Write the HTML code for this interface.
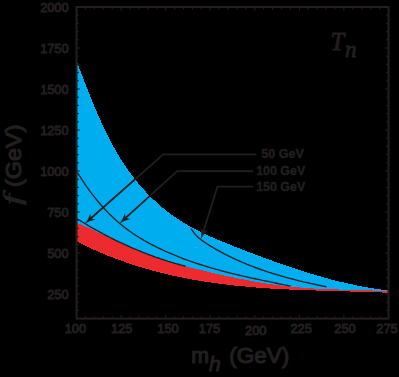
<!DOCTYPE html>
<html><head><meta charset="utf-8"><style>
html,body{margin:0;padding:0;background:#000;}
svg{display:block}
text{font-family:"Liberation Sans",sans-serif;fill:#231f20;stroke:#231f20;stroke-width:0.6px}
.tk text{stroke-width:0.9px}
#xm,#xh,#xg,#yg{stroke-width:1.1px}
.lg text{stroke-width:0.4px}
.ser{font-family:"Liberation Serif",serif;font-style:italic}
</style></head><body>
<svg width="399" height="377" viewBox="0 0 399 377">
<rect width="399" height="377" fill="#000"/>
<polygon shape-rendering="crispEdges" fill="#00aeef" points="77.3,62.7 80.4,71.0 83.6,79.2 86.7,87.3 89.9,95.2 93.0,102.9 96.1,110.4 99.3,117.6 102.4,124.6 105.5,131.2 108.7,137.5 111.8,143.5 115.0,149.2 118.1,154.6 121.2,159.7 124.4,164.5 127.5,169.2 130.7,173.5 133.8,177.7 136.9,181.6 140.1,185.4 143.2,188.9 146.3,192.3 149.5,195.6 152.6,198.7 155.8,201.6 158.9,204.4 162.0,207.1 165.2,209.7 168.3,212.2 171.5,214.5 174.6,216.8 177.7,218.9 180.9,221.0 184.0,222.9 187.1,224.8 190.3,226.6 193.4,228.3 196.6,230.0 199.7,231.5 202.8,233.1 206.0,234.6 209.1,236.0 212.3,237.4 215.4,238.7 218.5,240.0 221.7,241.3 224.8,242.6 227.9,243.9 231.1,245.1 234.2,246.4 237.4,247.6 240.5,248.8 243.6,250.0 246.8,251.3 249.9,252.5 253.0,253.7 256.2,254.8 259.3,256.0 262.5,257.2 265.6,258.4 268.7,259.5 271.9,260.6 275.0,261.8 278.2,262.9 281.3,264.0 284.4,265.1 287.6,266.1 290.7,267.2 293.8,268.2 297.0,269.3 300.1,270.3 303.3,271.3 306.4,272.3 309.5,273.2 312.7,274.2 315.8,275.1 319.0,276.0 322.1,276.9 325.2,277.8 328.4,278.6 331.5,279.5 334.6,280.3 337.8,281.1 340.9,281.9 344.1,282.6 347.2,283.3 350.3,284.0 353.5,284.7 356.6,285.4 359.8,286.0 362.9,286.6 366.0,287.2 369.2,287.7 372.3,288.3 375.4,288.8 378.6,289.2 381.7,289.7 384.9,290.1 388.0,290.5 388.0,292.8 384.9,292.7 381.7,292.5 378.6,292.4 375.4,292.3 372.3,292.2 369.2,292.1 366.0,292.0 362.9,291.9 359.8,291.8 356.6,291.7 353.5,291.6 350.3,291.5 347.2,291.4 344.1,291.4 340.9,291.3 337.8,291.2 334.6,291.1 331.5,291.0 328.4,290.9 325.2,290.8 322.1,290.7 319.0,290.6 315.8,290.5 312.7,290.4 309.5,290.3 306.4,290.2 303.3,290.1 300.1,290.0 297.0,289.8 293.8,289.7 290.7,289.6 287.6,289.4 284.4,289.3 281.3,289.1 278.2,288.9 275.0,288.8 271.9,288.6 268.7,288.4 265.6,288.2 262.5,288.0 259.3,287.7 256.2,287.5 253.0,287.2 249.9,287.0 246.8,286.7 243.6,286.4 240.5,286.1 237.4,285.8 234.2,285.5 231.1,285.1 227.9,284.8 224.8,284.4 221.7,284.0 218.5,283.6 215.4,283.2 212.3,282.7 209.1,282.3 206.0,281.8 202.8,281.3 199.7,280.8 196.6,280.3 193.4,279.7 190.3,279.1 187.1,278.6 184.0,277.9 180.9,277.3 177.7,276.7 174.6,276.0 171.5,275.3 168.3,274.6 165.2,273.8 162.0,273.0 158.9,272.2 155.8,271.4 152.6,270.6 149.5,269.7 146.3,268.8 143.2,267.9 140.1,267.0 136.9,266.0 133.8,265.0 130.7,264.0 127.5,262.9 124.4,261.8 121.2,260.7 118.1,259.6 115.0,258.4 111.8,257.2 108.7,256.0 105.5,254.7 102.4,253.4 99.3,252.1 96.1,250.7 93.0,249.3 89.9,247.9 86.7,246.4 83.6,244.9 80.4,243.4 77.3,241.8"/>
<polygon shape-rendering="crispEdges" fill="#ed2a2e" points="77.3,223.0 80.4,224.3 83.6,225.7 86.7,227.1 89.9,228.6 93.0,230.0 96.1,231.5 99.3,233.0 102.4,234.5 105.5,235.9 108.7,237.4 111.8,238.9 115.0,240.4 118.1,241.9 121.2,243.3 124.4,244.8 127.5,246.2 130.7,247.6 133.8,248.9 136.9,250.3 140.1,251.6 143.2,252.9 146.3,254.1 149.5,255.3 152.6,256.4 155.8,257.5 158.9,258.6 162.0,259.6 165.2,260.6 168.3,261.5 171.5,262.4 174.6,263.3 177.7,264.2 180.9,265.1 184.0,265.9 187.1,266.7 190.3,267.5 193.4,268.3 196.6,269.0 199.7,269.8 202.8,270.5 206.0,271.3 209.1,272.0 212.3,272.8 215.4,273.5 218.5,274.2 221.7,274.9 224.8,275.6 227.9,276.3 231.1,277.0 234.2,277.6 237.4,278.3 240.5,278.9 243.6,279.5 246.8,280.1 249.9,280.7 253.0,281.3 256.2,281.9 259.3,282.4 262.5,282.9 265.6,283.4 268.7,283.9 271.9,284.4 275.0,284.8 278.2,285.2 281.3,285.6 284.4,286.0 287.6,286.4 290.7,286.7 293.8,287.0 297.0,287.3 300.1,287.5 303.3,287.8 306.4,288.0 309.5,288.2 312.7,288.4 315.8,288.6 319.0,288.8 322.1,288.9 325.2,289.1 328.4,289.2 331.5,289.3 334.6,289.4 337.8,289.5 340.9,289.6 344.1,289.7 347.2,289.8 350.3,289.9 353.5,290.0 356.6,290.1 359.8,290.1 362.9,290.2 366.0,290.3 369.2,290.4 372.3,290.5 375.4,290.6 378.6,290.7 381.7,290.8 384.9,290.9 388.0,291.0 388.0,292.8 384.9,292.7 381.7,292.5 378.6,292.4 375.4,292.3 372.3,292.2 369.2,292.1 366.0,292.0 362.9,291.9 359.8,291.8 356.6,291.7 353.5,291.6 350.3,291.5 347.2,291.4 344.1,291.4 340.9,291.3 337.8,291.2 334.6,291.1 331.5,291.0 328.4,290.9 325.2,290.8 322.1,290.7 319.0,290.6 315.8,290.5 312.7,290.4 309.5,290.3 306.4,290.2 303.3,290.1 300.1,290.0 297.0,289.8 293.8,289.7 290.7,289.6 287.6,289.4 284.4,289.3 281.3,289.1 278.2,288.9 275.0,288.8 271.9,288.6 268.7,288.4 265.6,288.2 262.5,288.0 259.3,287.7 256.2,287.5 253.0,287.2 249.9,287.0 246.8,286.7 243.6,286.4 240.5,286.1 237.4,285.8 234.2,285.5 231.1,285.1 227.9,284.8 224.8,284.4 221.7,284.0 218.5,283.6 215.4,283.2 212.3,282.7 209.1,282.3 206.0,281.8 202.8,281.3 199.7,280.8 196.6,280.3 193.4,279.7 190.3,279.1 187.1,278.6 184.0,277.9 180.9,277.3 177.7,276.7 174.6,276.0 171.5,275.3 168.3,274.6 165.2,273.8 162.0,273.0 158.9,272.2 155.8,271.4 152.6,270.6 149.5,269.7 146.3,268.8 143.2,267.9 140.1,267.0 136.9,266.0 133.8,265.0 130.7,264.0 127.5,262.9 124.4,261.8 121.2,260.7 118.1,259.6 115.0,258.4 111.8,257.2 108.7,256.0 105.5,254.7 102.4,253.4 99.3,252.1 96.1,250.7 93.0,249.3 89.9,247.9 86.7,246.4 83.6,244.9 80.4,243.4 77.3,241.8"/>
<g fill="none" stroke="#231f20" stroke-width="1.35">
<polyline points="77.3,172.3 79.5,175.8 81.6,179.2 83.8,182.4 85.9,185.6 88.1,188.6 90.2,191.6 92.4,194.4 94.5,197.2 96.7,199.9 98.9,202.5 101.0,205.0 103.2,207.4 105.3,209.7 107.5,212.0 109.6,214.2 111.8,216.3 113.9,218.3 116.1,220.3 118.3,222.2 120.4,224.0 122.6,225.8 124.7,227.5 126.9,229.1 129.0,230.7 131.2,232.2 133.3,233.7 135.5,235.2 137.7,236.5 139.8,237.9 142.0,239.2 144.1,240.5 146.3,241.7 148.4,242.9 150.6,244.0 152.7,245.1 154.9,246.2 157.1,247.3 159.2,248.3 161.4,249.4 163.5,250.4 165.7,251.3 167.8,252.3 170.0,253.2 172.1,254.1 174.3,255.0 176.5,255.9 178.6,256.8 180.8,257.6 182.9,258.5 185.1,259.3 187.2,260.1 189.4,260.9 191.5,261.6 193.7,262.4 195.9,263.1 198.0,263.8 200.2,264.5 202.3,265.2 204.5,265.9 206.6,266.5 208.8,267.2 210.9,267.8 213.1,268.4 215.3,269.1 217.4,269.7 219.6,270.2 221.7,270.8 223.9,271.4 226.0,272.0 228.2,272.5 230.3,273.1 232.5,273.6 234.7,274.1 236.8,274.6 239.0,275.1 241.1,275.6 243.3,276.1 245.4,276.6 247.6,277.1 249.7,277.6 251.9,278.1 254.1,278.5 256.2,279.0 258.4,279.4 260.5,279.9 262.7,280.4 264.8,280.8 267.0,281.2 269.1,281.7 271.3,282.1 273.5,282.6 275.6,283.0 277.8,283.5 279.9,283.9 282.1,284.3 284.2,284.8 286.4,285.2 288.5,285.7 290.7,286.1"/>
<polyline points="77.3,218.8 78.4,219.5 79.5,220.2 80.6,220.9 81.7,221.5 82.8,222.2 83.9,222.9 85.0,223.5 86.1,224.2 87.2,224.9 88.2,225.5 89.3,226.1 90.4,226.8 91.5,227.4 92.6,228.1 93.7,228.7 94.8,229.3 95.9,229.9 97.0,230.5 98.1,231.1 99.2,231.7 100.3,232.3 101.4,232.9 102.5,233.5 103.6,234.1 104.7,234.7 105.8,235.3 106.9,235.8 108.0,236.4 109.1,237.0 110.1,237.5 111.2,238.1 112.3,238.6 113.4,239.2 114.5,239.7 115.6,240.3 116.7,240.8 117.8,241.3 118.9,241.9 120.0,242.4 121.1,242.9 122.2,243.4 123.3,243.9 124.4,244.4 125.5,244.9 126.6,245.4 127.7,245.9 128.8,246.4 129.9,246.9 131.0,247.4 132.0,247.8 133.1,248.3 134.2,248.8 135.3,249.2 136.4,249.7 137.5,250.1 138.6,250.6 139.7,251.0 140.8,251.5 141.9,251.9 143.0,252.4 144.1,252.8 145.2,253.2 146.3,253.6 147.4,254.1 148.5,254.5 149.6,254.9 150.7,255.3 151.8,255.7 152.9,256.1 153.9,256.5 155.0,256.9 156.1,257.3 157.2,257.6 158.3,258.0 159.4,258.4 160.5,258.8 161.6,259.1 162.7,259.5 163.8,259.9 164.9,260.2 166.0,260.6 167.1,260.9 168.2,261.3 169.3,261.6 170.4,261.9 171.5,262.3 172.6,262.6 173.7,262.9 174.8,263.3 175.8,263.6 176.9,263.9 178.0,264.2 179.1,264.5 180.2,264.8 181.3,265.1 182.4,265.4 183.5,265.7 184.6,266.0 185.7,266.3"/>
<polyline points="191.0,228.5 192.4,230.6 193.7,232.4 195.1,234.1 196.5,235.6 197.8,237.0 199.2,238.2 200.6,239.3 201.9,240.4 203.3,241.4 204.7,242.3 206.1,243.2 207.4,244.1 208.8,245.0 210.2,245.9 211.5,246.7 212.9,247.5 214.3,248.3 215.6,249.1 217.0,249.9 218.4,250.7 219.7,251.4 221.1,252.2 222.5,252.9 223.8,253.6 225.2,254.3 226.6,255.0 228.0,255.7 229.3,256.3 230.7,257.0 232.1,257.7 233.4,258.3 234.8,258.9 236.2,259.6 237.5,260.2 238.9,260.8 240.3,261.4 241.6,262.0 243.0,262.6 244.4,263.1 245.7,263.7 247.1,264.3 248.5,264.8 249.9,265.4 251.2,265.9 252.6,266.4 254.0,267.0 255.3,267.5 256.7,268.0 258.1,268.5 259.4,269.0 260.8,269.5 262.2,270.0 263.5,270.4 264.9,270.9 266.3,271.4 267.6,271.8 269.0,272.3 270.4,272.7 271.8,273.1 273.1,273.6 274.5,274.0 275.9,274.4 277.2,274.8 278.6,275.2 280.0,275.6 281.3,276.0 282.7,276.4 284.1,276.8 285.4,277.2 286.8,277.6 288.2,278.0 289.5,278.3 290.9,278.7 292.3,279.0 293.7,279.4 295.0,279.7 296.4,280.1 297.8,280.4 299.1,280.8 300.5,281.1 301.9,281.4 303.2,281.8 304.6,282.1 306.0,282.4 307.3,282.7 308.7,283.0 310.1,283.3 311.4,283.6 312.8,283.9 314.2,284.2 315.6,284.5 316.9,284.8 318.3,285.1 319.7,285.4 321.0,285.7 322.4,286.0 323.8,286.2 325.1,286.5 326.5,286.8"/>
</g>
<g fill="none" stroke="#231f20" stroke-width="1.75"><polyline points="256.3,154.4 163.3,154.4 90.40,218.76"/><polyline points="253,171.0 177.2,171.0 125.13,218.39"/><polyline points="253,186.5 217.5,186.5 203.22,231.99"/></g>
<g fill="#231f20"><path d="M85.08,223.46 Q89.72,220.57 95.88,219.39 L90.77,218.43 L90.46,213.24 Q88.53,219.21 85.08,223.46Z"/><path d="M119.88,223.17 Q124.48,220.20 130.63,218.93 L125.50,218.06 L125.11,212.87 Q123.27,218.87 119.88,223.17Z"/><path d="M201.09,238.77 Q203.57,233.89 208.24,229.69 L203.37,231.52 L200.41,227.24 Q201.85,233.35 201.09,238.77Z"/></g>
<rect x="76.5" y="7.0" width="312.0" height="311.6" fill="none" stroke="#231f20" stroke-width="2.0"/>
<g stroke="#231f20" stroke-width="1.1">
<line x1="76.5" y1="318.6" x2="78.9" y2="318.6"/><line x1="388.5" y1="318.6" x2="386.1" y2="318.6"/><line x1="76.5" y1="310.4" x2="78.9" y2="310.4"/><line x1="388.5" y1="310.4" x2="386.1" y2="310.4"/><line x1="76.5" y1="302.2" x2="78.9" y2="302.2"/><line x1="388.5" y1="302.2" x2="386.1" y2="302.2"/><line x1="76.5" y1="294.0" x2="79.9" y2="294.0"/><line x1="388.5" y1="294.0" x2="385.1" y2="294.0"/><line x1="76.5" y1="285.8" x2="78.9" y2="285.8"/><line x1="388.5" y1="285.8" x2="386.1" y2="285.8"/><line x1="76.5" y1="277.6" x2="78.9" y2="277.6"/><line x1="388.5" y1="277.6" x2="386.1" y2="277.6"/><line x1="76.5" y1="269.4" x2="78.9" y2="269.4"/><line x1="388.5" y1="269.4" x2="386.1" y2="269.4"/><line x1="76.5" y1="261.2" x2="78.9" y2="261.2"/><line x1="388.5" y1="261.2" x2="386.1" y2="261.2"/><line x1="76.5" y1="253.0" x2="79.9" y2="253.0"/><line x1="388.5" y1="253.0" x2="385.1" y2="253.0"/><line x1="76.5" y1="244.8" x2="78.9" y2="244.8"/><line x1="388.5" y1="244.8" x2="386.1" y2="244.8"/><line x1="76.5" y1="236.6" x2="78.9" y2="236.6"/><line x1="388.5" y1="236.6" x2="386.1" y2="236.6"/><line x1="76.5" y1="228.4" x2="78.9" y2="228.4"/><line x1="388.5" y1="228.4" x2="386.1" y2="228.4"/><line x1="76.5" y1="220.2" x2="78.9" y2="220.2"/><line x1="388.5" y1="220.2" x2="386.1" y2="220.2"/><line x1="76.5" y1="212.0" x2="79.9" y2="212.0"/><line x1="388.5" y1="212.0" x2="385.1" y2="212.0"/><line x1="76.5" y1="203.8" x2="78.9" y2="203.8"/><line x1="388.5" y1="203.8" x2="386.1" y2="203.8"/><line x1="76.5" y1="195.6" x2="78.9" y2="195.6"/><line x1="388.5" y1="195.6" x2="386.1" y2="195.6"/><line x1="76.5" y1="187.4" x2="78.9" y2="187.4"/><line x1="388.5" y1="187.4" x2="386.1" y2="187.4"/><line x1="76.5" y1="179.2" x2="78.9" y2="179.2"/><line x1="388.5" y1="179.2" x2="386.1" y2="179.2"/><line x1="76.5" y1="171.0" x2="79.9" y2="171.0"/><line x1="388.5" y1="171.0" x2="385.1" y2="171.0"/><line x1="76.5" y1="162.8" x2="78.9" y2="162.8"/><line x1="388.5" y1="162.8" x2="386.1" y2="162.8"/><line x1="76.5" y1="154.6" x2="78.9" y2="154.6"/><line x1="388.5" y1="154.6" x2="386.1" y2="154.6"/><line x1="76.5" y1="146.4" x2="78.9" y2="146.4"/><line x1="388.5" y1="146.4" x2="386.1" y2="146.4"/><line x1="76.5" y1="138.2" x2="78.9" y2="138.2"/><line x1="388.5" y1="138.2" x2="386.1" y2="138.2"/><line x1="76.5" y1="130.0" x2="79.9" y2="130.0"/><line x1="388.5" y1="130.0" x2="385.1" y2="130.0"/><line x1="76.5" y1="121.8" x2="78.9" y2="121.8"/><line x1="388.5" y1="121.8" x2="386.1" y2="121.8"/><line x1="76.5" y1="113.6" x2="78.9" y2="113.6"/><line x1="388.5" y1="113.6" x2="386.1" y2="113.6"/><line x1="76.5" y1="105.4" x2="78.9" y2="105.4"/><line x1="388.5" y1="105.4" x2="386.1" y2="105.4"/><line x1="76.5" y1="97.2" x2="78.9" y2="97.2"/><line x1="388.5" y1="97.2" x2="386.1" y2="97.2"/><line x1="76.5" y1="89.0" x2="79.9" y2="89.0"/><line x1="388.5" y1="89.0" x2="385.1" y2="89.0"/><line x1="76.5" y1="80.8" x2="78.9" y2="80.8"/><line x1="388.5" y1="80.8" x2="386.1" y2="80.8"/><line x1="76.5" y1="72.6" x2="78.9" y2="72.6"/><line x1="388.5" y1="72.6" x2="386.1" y2="72.6"/><line x1="76.5" y1="64.4" x2="78.9" y2="64.4"/><line x1="388.5" y1="64.4" x2="386.1" y2="64.4"/><line x1="76.5" y1="56.2" x2="78.9" y2="56.2"/><line x1="388.5" y1="56.2" x2="386.1" y2="56.2"/><line x1="76.5" y1="48.0" x2="79.9" y2="48.0"/><line x1="388.5" y1="48.0" x2="385.1" y2="48.0"/><line x1="76.5" y1="39.8" x2="78.9" y2="39.8"/><line x1="388.5" y1="39.8" x2="386.1" y2="39.8"/><line x1="76.5" y1="31.6" x2="78.9" y2="31.6"/><line x1="388.5" y1="31.6" x2="386.1" y2="31.6"/><line x1="76.5" y1="23.4" x2="78.9" y2="23.4"/><line x1="388.5" y1="23.4" x2="386.1" y2="23.4"/><line x1="76.5" y1="15.2" x2="78.9" y2="15.2"/><line x1="388.5" y1="15.2" x2="386.1" y2="15.2"/><line x1="76.5" y1="7.0" x2="79.9" y2="7.0"/><line x1="388.5" y1="7.0" x2="385.1" y2="7.0"/><line x1="76.5" y1="318.6" x2="76.5" y2="315.2"/><line x1="76.5" y1="7.0" x2="76.5" y2="10.4"/><line x1="85.4" y1="318.6" x2="85.4" y2="316.2"/><line x1="85.4" y1="7.0" x2="85.4" y2="9.4"/><line x1="94.3" y1="318.6" x2="94.3" y2="316.2"/><line x1="94.3" y1="7.0" x2="94.3" y2="9.4"/><line x1="103.2" y1="318.6" x2="103.2" y2="316.2"/><line x1="103.2" y1="7.0" x2="103.2" y2="9.4"/><line x1="112.2" y1="318.6" x2="112.2" y2="316.2"/><line x1="112.2" y1="7.0" x2="112.2" y2="9.4"/><line x1="121.1" y1="318.6" x2="121.1" y2="315.2"/><line x1="121.1" y1="7.0" x2="121.1" y2="10.4"/><line x1="130.0" y1="318.6" x2="130.0" y2="316.2"/><line x1="130.0" y1="7.0" x2="130.0" y2="9.4"/><line x1="138.9" y1="318.6" x2="138.9" y2="316.2"/><line x1="138.9" y1="7.0" x2="138.9" y2="9.4"/><line x1="147.8" y1="318.6" x2="147.8" y2="316.2"/><line x1="147.8" y1="7.0" x2="147.8" y2="9.4"/><line x1="156.7" y1="318.6" x2="156.7" y2="316.2"/><line x1="156.7" y1="7.0" x2="156.7" y2="9.4"/><line x1="165.6" y1="318.6" x2="165.6" y2="315.2"/><line x1="165.6" y1="7.0" x2="165.6" y2="10.4"/><line x1="174.6" y1="318.6" x2="174.6" y2="316.2"/><line x1="174.6" y1="7.0" x2="174.6" y2="9.4"/><line x1="183.5" y1="318.6" x2="183.5" y2="316.2"/><line x1="183.5" y1="7.0" x2="183.5" y2="9.4"/><line x1="192.4" y1="318.6" x2="192.4" y2="316.2"/><line x1="192.4" y1="7.0" x2="192.4" y2="9.4"/><line x1="201.3" y1="318.6" x2="201.3" y2="316.2"/><line x1="201.3" y1="7.0" x2="201.3" y2="9.4"/><line x1="210.2" y1="318.6" x2="210.2" y2="315.2"/><line x1="210.2" y1="7.0" x2="210.2" y2="10.4"/><line x1="219.1" y1="318.6" x2="219.1" y2="316.2"/><line x1="219.1" y1="7.0" x2="219.1" y2="9.4"/><line x1="228.0" y1="318.6" x2="228.0" y2="316.2"/><line x1="228.0" y1="7.0" x2="228.0" y2="9.4"/><line x1="237.0" y1="318.6" x2="237.0" y2="316.2"/><line x1="237.0" y1="7.0" x2="237.0" y2="9.4"/><line x1="245.9" y1="318.6" x2="245.9" y2="316.2"/><line x1="245.9" y1="7.0" x2="245.9" y2="9.4"/><line x1="254.8" y1="318.6" x2="254.8" y2="315.2"/><line x1="254.8" y1="7.0" x2="254.8" y2="10.4"/><line x1="263.7" y1="318.6" x2="263.7" y2="316.2"/><line x1="263.7" y1="7.0" x2="263.7" y2="9.4"/><line x1="272.6" y1="318.6" x2="272.6" y2="316.2"/><line x1="272.6" y1="7.0" x2="272.6" y2="9.4"/><line x1="281.5" y1="318.6" x2="281.5" y2="316.2"/><line x1="281.5" y1="7.0" x2="281.5" y2="9.4"/><line x1="290.4" y1="318.6" x2="290.4" y2="316.2"/><line x1="290.4" y1="7.0" x2="290.4" y2="9.4"/><line x1="299.4" y1="318.6" x2="299.4" y2="315.2"/><line x1="299.4" y1="7.0" x2="299.4" y2="10.4"/><line x1="308.3" y1="318.6" x2="308.3" y2="316.2"/><line x1="308.3" y1="7.0" x2="308.3" y2="9.4"/><line x1="317.2" y1="318.6" x2="317.2" y2="316.2"/><line x1="317.2" y1="7.0" x2="317.2" y2="9.4"/><line x1="326.1" y1="318.6" x2="326.1" y2="316.2"/><line x1="326.1" y1="7.0" x2="326.1" y2="9.4"/><line x1="335.0" y1="318.6" x2="335.0" y2="316.2"/><line x1="335.0" y1="7.0" x2="335.0" y2="9.4"/><line x1="343.9" y1="318.6" x2="343.9" y2="315.2"/><line x1="343.9" y1="7.0" x2="343.9" y2="10.4"/><line x1="352.8" y1="318.6" x2="352.8" y2="316.2"/><line x1="352.8" y1="7.0" x2="352.8" y2="9.4"/><line x1="361.8" y1="318.6" x2="361.8" y2="316.2"/><line x1="361.8" y1="7.0" x2="361.8" y2="9.4"/><line x1="370.7" y1="318.6" x2="370.7" y2="316.2"/><line x1="370.7" y1="7.0" x2="370.7" y2="9.4"/><line x1="379.6" y1="318.6" x2="379.6" y2="316.2"/><line x1="379.6" y1="7.0" x2="379.6" y2="9.4"/><line x1="388.5" y1="318.6" x2="388.5" y2="315.2"/><line x1="388.5" y1="7.0" x2="388.5" y2="10.4"/>
</g>
<g class="tk" font-size="12.8">
<text x="68.6" y="299.0" text-anchor="end">250</text><text x="68.6" y="258.0" text-anchor="end">500</text><text x="68.6" y="217.0" text-anchor="end">750</text><text x="68.6" y="176.0" text-anchor="end">1000</text><text x="68.6" y="135.0" text-anchor="end">1250</text><text x="68.6" y="94.0" text-anchor="end">1500</text><text x="68.6" y="53.0" text-anchor="end">1750</text><text x="68.6" y="12.0" text-anchor="end">2000</text>
<text x="75.4" y="333.0" text-anchor="middle">100</text><text x="121.8" y="333.0" text-anchor="middle">125</text><text x="168" y="333.2" text-anchor="middle">150</text><text x="209.5" y="333.2" text-anchor="middle">175</text><text x="255.8" y="334.9" text-anchor="middle">200</text><text x="301.1" y="332.5" text-anchor="middle">225</text><text x="345" y="333.2" text-anchor="middle">250</text><text x="387" y="332.5" text-anchor="middle">275</text>
</g>
<g class="lg" font-size="13" font-weight="bold">
<text x="304" y="157.6" text-anchor="end" textLength="42.7" lengthAdjust="spacingAndGlyphs">50 GeV</text>
<text x="305.2" y="175.4" text-anchor="end" textLength="49" lengthAdjust="spacingAndGlyphs">100 GeV</text>
<text x="305.2" y="191.2" text-anchor="end" textLength="49" lengthAdjust="spacingAndGlyphs">150 GeV</text>
</g>
<text class="ser" x="330.5" y="49.5" font-size="24.5" style="stroke-width:0.8px">T</text>
<text class="ser" x="345" y="56.6" font-size="23" style="stroke-width:0.8px">n</text>
<g transform="translate(21.2,0) rotate(-90)">
<text id="yf" class="ser" transform="translate(-205,0) scale(1.45,1)" x="0" y="0" font-size="26" style="stroke-width:0.8px">f</text>
<text id="yg" x="-187" y="0" font-size="22.3" textLength="62.5" lengthAdjust="spacingAndGlyphs">(GeV)</text>
</g>
<text id="xm" x="191.3" y="362.6" font-size="21.3">m</text>
<text id="xh" x="209" y="370.9" font-size="21" style="font-style:italic">h</text>
<text id="xg" x="229.3" y="362.6" font-size="21.3" textLength="60" lengthAdjust="spacingAndGlyphs">(GeV)</text>
</svg>
</body></html>
